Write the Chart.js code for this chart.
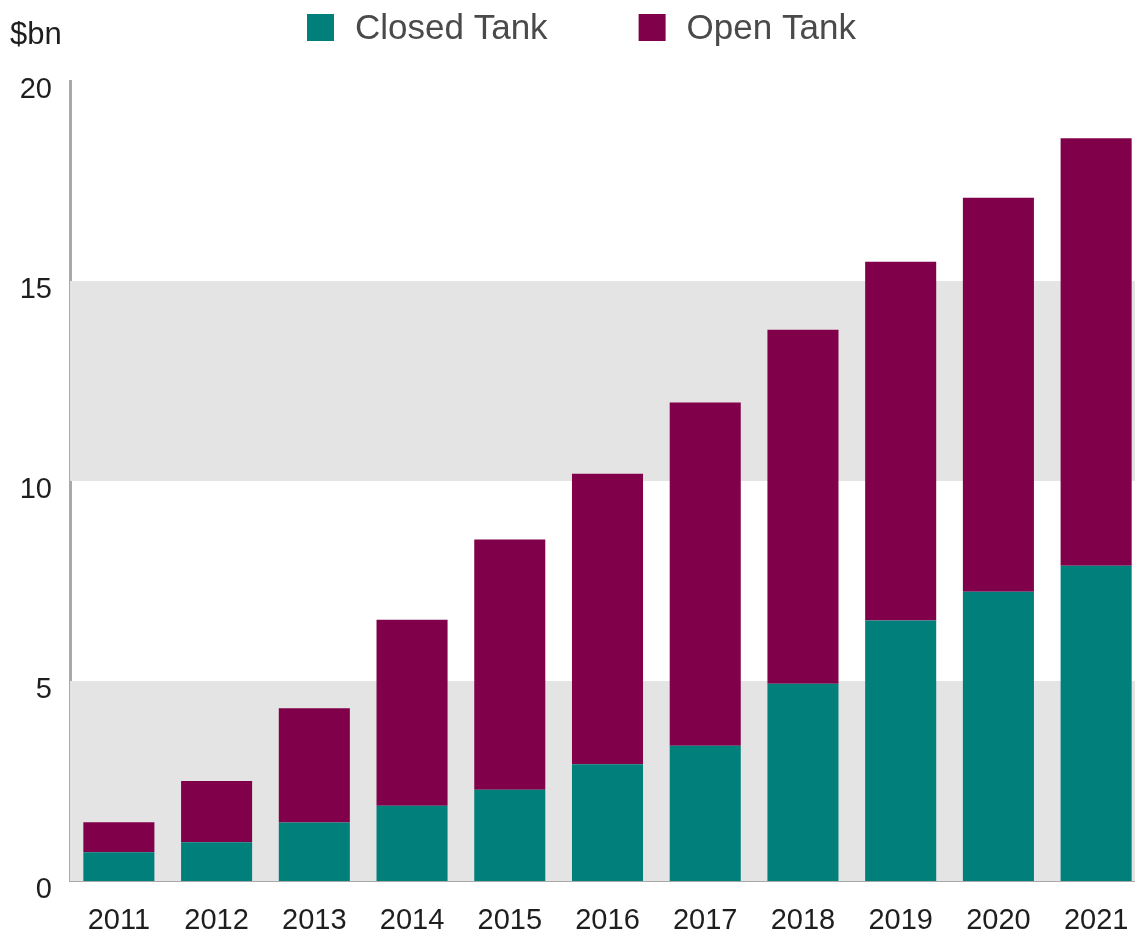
<!DOCTYPE html>
<html>
<head>
<meta charset="utf-8">
<title>Tank market</title>
<script src="https://cdn.jsdelivr.net/npm/chart.js@4.4.1/dist/chart.umd.min.js"></script>
<style>
  html, body { margin: 0; padding: 0; background: #ffffff; overflow: hidden; }
  #wrap { position: relative; width: 1145px; height: 936px; }
</style>
</head>
<body>
<div id="wrap"><canvas id="tankChart"></canvas></div>
<script>
const years = ["2011", "2012", "2013", "2014", "2015", "2016", "2017", "2018", "2019", "2020", "2021"];
const closedTank = [0.72, 0.97, 1.46, 1.88, 2.28, 2.92, 3.38, 4.93, 6.51, 7.23, 7.88];
const openTank = [0.75, 1.53, 2.86, 4.65, 6.26, 7.26, 8.58, 8.85, 8.97, 9.85, 10.69];
const yTicks = [0, 5, 10, 15, 20];
const unitLabel = "$bn";

const fontFamily = "'Liberation Sans', Arial, Helvetica, sans-serif";
const teal = "#007f7b";
const maroon = "#81004a";
const bandColor = "#e4e4e4";
const axisColor = "#a9a9a9";

// grey bands between every other pair of y ticks, starting at zero
const bandPlugin = {
  id: "bands",
  beforeDatasetsDraw(chart) {
    const { ctx, chartArea, scales } = chart;
    const y = scales.y;
    ctx.save();
    ctx.fillStyle = bandColor;
    for (let i = 0; i + 1 < yTicks.length; i += 2) {
      const top = y.getPixelForValue(yTicks[i + 1]);
      const bottom = y.getPixelForValue(yTicks[i]);
      ctx.fillRect(chartArea.left, top, chartArea.right - chartArea.left, bottom - top);
    }
    ctx.restore();
  }
};

// unit label and the legend row across the top
const headerPlugin = {
  id: "header",
  afterDraw(chart) {
    const { ctx } = chart;
    ctx.save();
    ctx.textBaseline = "alphabetic";
    ctx.textAlign = "left";
    ctx.font = `31px ${fontFamily}`;
    ctx.fillStyle = "#1e1e1e";
    ctx.fillText(unitLabel, 10, 44);

    ctx.font = `35px ${fontFamily}`;
    let x = 307;
    chart.data.datasets.forEach(dataset => {
      ctx.fillStyle = dataset.backgroundColor;
      ctx.fillRect(x, 14, 27, 27);
      ctx.fillStyle = "#4a4a4a";
      ctx.fillText(dataset.label, x + 48, 39);
      x += 48 + ctx.measureText(dataset.label).width + 91;
    });
    ctx.restore();
  }
};

new Chart(document.getElementById("tankChart").getContext("2d"), {
  type: "bar",
  data: {
    labels: years,
    datasets: [
      {
        label: "Closed Tank",
        data: closedTank,
        backgroundColor: teal,
        borderWidth: 0,
        barPercentage: 0.727,
        categoryPercentage: 1
      },
      {
        label: "Open Tank",
        data: openTank,
        backgroundColor: maroon,
        borderWidth: 0,
        barPercentage: 0.727,
        categoryPercentage: 1
      }
    ]
  },
  options: {
    responsive: true,
    maintainAspectRatio: false,
    animation: false,
    layout: {
      padding: { top: 81, right: 0, bottom: 0, left: 0 }
    },
    plugins: {
      legend: { display: false },
      tooltip: { enabled: false }
    },
    scales: {
      x: {
        stacked: true,
        grid: { display: false },
        border: { display: true, color: axisColor, width: 2 },
        ticks: {
          color: "#1e1e1e",
          padding: 15,
          font: { family: fontFamily, size: 29 }
        },
        afterFit(scale) { scale.height = 55; }
      },
      y: {
        stacked: true,
        min: 0,
        max: 20,
        afterBuildTicks(scale) {
          scale.ticks = yTicks.map(value => ({ value }));
        },
        grid: { display: false },
        border: { display: true, color: axisColor, width: 3 },
        ticks: {
          color: "#1e1e1e",
          padding: 10,
          labelOffset: 9,
          font: { family: fontFamily, size: 29 }
        },
        afterFit(scale) { scale.width = 70; }
      }
    }
  },
  plugins: [bandPlugin, headerPlugin]
});
</script>
</body>
</html>
